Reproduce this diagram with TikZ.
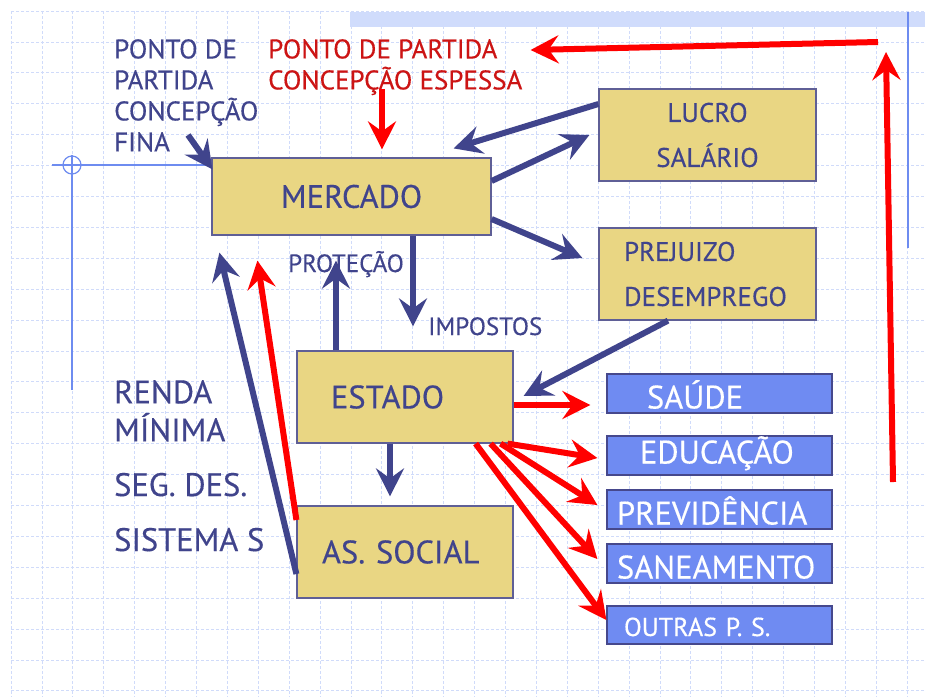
\documentclass[tikz,border=0pt]{standalone}
\usepackage{fontspec}
\setmainfont[FakeBold=0.35]{PT Sans}
\usetikzlibrary{arrows.meta}

\definecolor{azulescuro}{RGB}{64,68,140}
\definecolor{bordacaixa}{RGB}{95,95,150}
\definecolor{areia}{RGB}{233,214,131}
\definecolor{azulcaixa}{RGB}{111,139,242}
\definecolor{bordaazul}{RGB}{70,72,140}
\definecolor{vermelhotxt}{RGB}{204,20,20}
\definecolor{vermelho}{RGB}{255,0,0}
\definecolor{grade}{RGB}{208,219,250}
\definecolor{faixa}{RGB}{208,220,252}
\definecolor{enfeite}{RGB}{110,140,240}

\tikzstyle{caixa} = [rectangle, minimum width=217pt, minimum height=92pt, draw=bordacaixa, line width=1.2pt, fill=areia, text=azulescuro, font=\fontsize{32.5}{38}\selectfont]
\tikzstyle{politica} = [rectangle, minimum width=225pt, minimum height=39pt, inner ysep=0pt, text height=30pt, text depth=0pt, draw=bordaazul, line width=1.2pt, fill=azulcaixa, text=white, align=left, font=\fontsize{32.5}{36}\selectfont]
\tikzstyle{rotulo} = [inner sep=0pt, text=azulescuro, align=left, font=\fontsize{32.5}{38}\selectfont]
\tikzstyle{rotulomedio} = [rotulo, font=\fontsize{27}{31}\selectfont]
\tikzstyle{rotulopeq} = [rotulo, font=\fontsize{25}{28}\selectfont]
\tikzstyle{linhagrade} = [draw=grade, line width=0.9pt, dash pattern=on 3pt off 2pt]
\tikzstyle{bluearrow} = [line width=6pt, draw=azulescuro, ->, >={Stealth[length=28pt, width=28pt, inset=10pt]}]
\tikzstyle{redarrow} = [line width=6pt, draw=vermelho, ->, >={Stealth[length=28pt, width=28pt, inset=10pt]}]

\begin{document}
\begin{tikzpicture}[x=1pt, y=-1pt]
\useasboundingbox [fill=white] (0,0) rectangle (925,697);

% fundo quadriculado
\foreach \k in {0,...,29}
  \draw [linhagrade] ({11.1+30.9*\k},11) -- ({11.1+30.9*\k},697);
\foreach \k in {0,...,22}
  \draw [linhagrade] (11,{11.1+30.9*\k}) -- (925,{11.1+30.9*\k});
\fill [faixa] (350,12) rectangle (925,27);
\draw [enfeite, line width=1.5pt] (908,12) -- (908,248);
\draw [enfeite, line width=1.5pt] (52,165) -- (212,165);
\draw [enfeite, line width=1.5pt] (72,155) -- (72,390);
\draw [enfeite, line width=1.2pt] (72,165) circle (9);

% caixas
\node (mercado) [caixa, minimum width=279pt, minimum height=77pt] at (351.5,196.5) {MERCADO};
\node (lucro) [caixa, font=\fontsize{27}{45}\selectfont, align=center] at (707.5,135) {LUCRO\\SALÁRIO};
\node (prejuizo) [caixa, font=\fontsize{27}{45}\selectfont, text width=167pt, inner xsep=25pt, align=left] at (707.5,274) {PREJUIZO\\DESEMPREGO};
\node (estado) [caixa, minimum width=216pt, text width=148pt, inner xsep=34pt, align=left] at (405,397) {ESTADO};
\node (social) [caixa, minimum width=216pt, text width=166pt, inner xsep=25pt, align=left] at (405,552) {AS. SOCIAL};

\node (saude) [politica, text width=145pt, inner xsep=40pt] at (719.5,393.5) {SAÚDE};
\node (educacao) [politica, text width=159pt, inner xsep=33pt, text height=16pt] at (719.5,455.5) {EDUCAÇÃO};
\node (previdencia) [politica, text width=205pt, inner xsep=10pt] at (719.5,509.5) {PREVIDÊNCIA};
\node (saneamento) [politica, text width=205pt, inner xsep=10pt] at (719.5,563.5) {SANEAMENTO};
\node (outras) [politica, text width=191pt, inner xsep=17pt, minimum height=38pt, text height=22pt, font=\fontsize{26}{30}\selectfont] at (719.5,625) {OUTRAS P. S.};

% rotulos
\node (lblfina) [rotulomedio, anchor=north west] at (114,39) {PONTO DE\\PARTIDA\\CONCEPÇÃO\\FINA};
\node (lblgrossa) [rotulomedio, anchor=north west, text=vermelhotxt] at (268,39) {PONTO DE PARTIDA\\CONCEPÇÃO ESPESSA};
\node (lblrenda) [rotulo, anchor=north west] at (114,380) {RENDA\\MÍNIMA};
\node (lblseg) [rotulo, anchor=base west] at (114,496) {SEG. DES.};
\node (lblsistema) [rotulo, anchor=base west] at (114,551) {SISTEMA S};
\node (lblprotecao) [rotulopeq, anchor=base west] at (288,272) {PROTEÇÃO};
\node (lblimpostos) [rotulopeq, anchor=base west] at (428,335) {IMPOSTOS};

% pontas soltas
\coordinate (finatail) at (188,135);
\coordinate (grossatail) at (382,89);
\coordinate (retornobase) at (893,482);
\coordinate (retornotopo) at (886,52);
\coordinate (retornocanto) at (878,42);

% setas
\draw [bluearrow] (finatail) -- ([shift={(1,12)}]mercado.north west);
\draw [redarrow] (grossatail) -- ([shift={(30.5,-8)}]mercado.north);
\draw [bluearrow] ([shift={(0,-31)}]lucro.west) -- ([shift={(-38,-9)}]mercado.north east);
\draw [bluearrow] ([shift={(0,-15.5)}]mercado.east) -- ([shift={(-9,0)}]lucro.west);
\draw [bluearrow] ([shift={(0,22.5)}]mercado.east) -- ([shift={(-16,-16)}]prejuizo.west);
\draw [bluearrow] ([shift={(61.5,0)}]mercado.south) -- ([shift={(8,-24)}]estado.north);
\draw [bluearrow] ([shift={(-69,0)}]estado.north) -- ([shift={(-15.5,25)}]mercado.south);
\draw [bluearrow] ([shift={(-39.5,0)}]prejuizo.south) -- ([shift={(10,-1)}]estado.east);
\draw [bluearrow] ([shift={(-15,0)}]estado.south) -- ([shift={(-15,-9)}]social.north);
\draw [bluearrow] ([shift={(0,22)}]social.west) -- ([shift={(8,17)}]mercado.south west);
\draw [redarrow] ([shift={(0,-32)}]social.west) -- ([shift={(46,25)}]mercado.south west);
\draw [redarrow] ([shift={(0,8)}]estado.east) -- ([shift={(-16,11.5)}]saude.west);
\draw [redarrow] ([shift={(-6,0)}]estado.south east) -- ([shift={(-9,2.5)}]educacao.west);
\draw [redarrow] ([shift={(-13,0)}]estado.south east) -- ([shift={(-9,-4.5)}]previdencia.west);
\draw [redarrow] ([shift={(-23,0)}]estado.south east) -- ([shift={(-9,-4.5)}]saneamento.west);
\draw [redarrow] ([shift={(-38,0)}]estado.south east) -- ([shift={(0,-5)}]outras.west);
\draw [redarrow] (retornobase) -- (retornotopo);
\draw [redarrow] (retornocanto) -- ([shift={(8,11)}]lblgrossa.north east);
\end{tikzpicture}
\end{document}
